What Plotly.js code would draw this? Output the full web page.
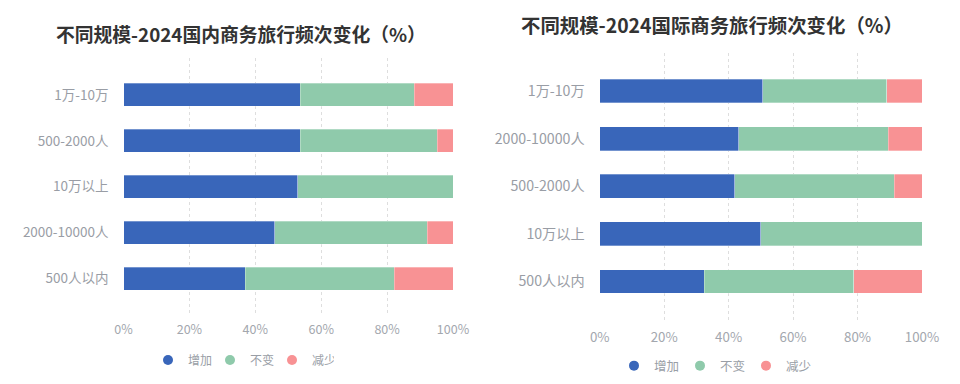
<!DOCTYPE html>
<html>
<head>
<meta charset="utf-8">
<script src="https://cdn.plot.ly/plotly-3.0.1.min.js"></script>
<style>html,body{margin:0;padding:0;background:#fff;}#chart{width:960px;height:384px;}</style>
</head>
<body>
<div id="chart"></div>
<script>
// Left chart: domestic
const catsDomestic = ["1万-10万", "500-2000人", "10万以上", "2000-10000人", "500人以内"];
const domIncrease = [53.6, 53.6, 52.9, 45.9, 37.0];
const domSame     = [34.6, 41.6, 47.1, 46.3, 45.1];
const domDecrease = [11.8, 4.8, 0, 7.8, 17.9];

// Right chart: international
const catsIntl = ["1万-10万", "2000-10000人", "500-2000人", "10万以上", "500人以内"];
const intlIncrease = [50.6, 43.1, 41.9, 50.0, 32.5];
const intlSame     = [38.4, 46.4, 49.5, 50.0, 46.3];
const intlDecrease = [11.0, 10.5, 8.6, 0, 21.2];

const seriesNames = ["增加", "不变", "减少"];
const xTickVals = [0, 20, 40, 60, 80, 100];
const xTickText = ["0%", "20%", "40%", "60%", "80%", "100%"];
const titleLeft = "不同规模-2024国内商务旅行频次变化（%）";
const titleRight = "不同规模-2024国际商务旅行频次变化（%）";

const colors = ["#3966BA", "#8FCAAB", "#F89294"];
const FONT = '"Noto Sans CJK SC", "Noto Sans", sans-serif';

function bars(cats, vals, xa, ya) {
  return vals.map((v, i) => ({
    type: "bar", orientation: "h",
    y: cats, x: v, name: seriesNames[i],
    xaxis: xa, yaxis: ya, showlegend: false,
    width: 0.5,
    marker: {color: colors[i], line: {color: "rgba(255,255,255,0.6)", width: 0.5}},
    hoverinfo: "x+y+name"
  }));
}
function legendTraces(xa, ya, lg) {
  return seriesNames.map((n, i) => ({
    type: "scatter", mode: "markers", x: [null], y: [null], name: n,
    xaxis: xa, yaxis: ya, legend: lg, showlegend: true,
    marker: {color: colors[i], size: 10, symbol: "circle"}
  }));
}

const data = [].concat(
  bars(catsDomestic, [domIncrease, domSame, domDecrease], "x", "y"),
  bars(catsIntl, [intlIncrease, intlSame, intlDecrease], "x2", "y2"),
  legendTraces("x", "y", "legend"),
  legendTraces("x2", "y2", "legend2")
);

function xaxis(dom, fs, standoff) {
  return {
    domain: dom, range: [0, 100], tickvals: xTickVals, ticktext: xTickText,
    showgrid: true, gridcolor: "#dedede", griddash: "dot", gridwidth: 1,
    zeroline: false, showline: false, ticks: "", ticklabelstandoff: standoff,
    tickfont: {family: FONT, size: fs, color: "#a3a7ae"}, fixedrange: true
  };
}
function yaxis(dom, cats, xa, fs) {
  return {
    domain: dom, type: "category", categoryorder: "array", categoryarray: cats,
    range: [4.8, -0.8], anchor: xa, showgrid: false, zeroline: false, showline: false,
    ticks: "", ticklabelstandoff: 14,
    tickfont: {family: FONT, size: fs, color: "#999da5"}, fixedrange: true
  };
}

const layout = {
  width: 960, height: 384,
  margin: {l: 0, r: 0, t: 0, b: 0},
  paper_bgcolor: "#fff", plot_bgcolor: "#fff",
  barmode: "stack", bargap: 0.5,
  font: {family: FONT},
  xaxis: Object.assign(xaxis([123.5/960, 453/960], 12.5, 5), {anchor: "y"}),
  yaxis: yaxis([(384-315.5)/384, (384-58)/384], catsDomestic, "x", 13.5),
  xaxis2: Object.assign(xaxis([599.7/960, 922/960], 13.3, 8), {anchor: "y2"}),
  yaxis2: yaxis([(384-319.6)/384, (384-52.9)/384], catsIntl, "x2", 14.2),
  legend: {orientation: "h", traceorder: "normal", x: 148/960, xanchor: "left", y: (384-360)/384, yanchor: "middle",
    font: {family: FONT, size: 12, color: "#999ea6"}, entrywidth: 17, itemwidth: 30, bgcolor: "rgba(0,0,0,0)"},
  legend2: {orientation: "h", traceorder: "normal", x: 614/960, xanchor: "left", y: (384-366)/384, yanchor: "middle",
    font: {family: FONT, size: 12.5, color: "#999ea6"}, entrywidth: 21, itemwidth: 30, bgcolor: "rgba(0,0,0,0)"},
  annotations: [
    {text: titleLeft, xref: "paper", yref: "paper", x: 241/960, y: (384-33)/384, xanchor: "center", yanchor: "middle",
     showarrow: false, font: {family: FONT, size: 18.8, color: "#333", weight: "bold"}},
    {text: titleRight, xref: "paper", yref: "paper", x: 712/960, y: (384-25)/384, xanchor: "center", yanchor: "middle",
     showarrow: false, font: {family: FONT, size: 19.4, color: "#333", weight: "bold"}}
  ]
};

Plotly.newPlot("chart", data, layout, {displayModeBar: false, staticPlot: true});
</script>
</body>
</html>
